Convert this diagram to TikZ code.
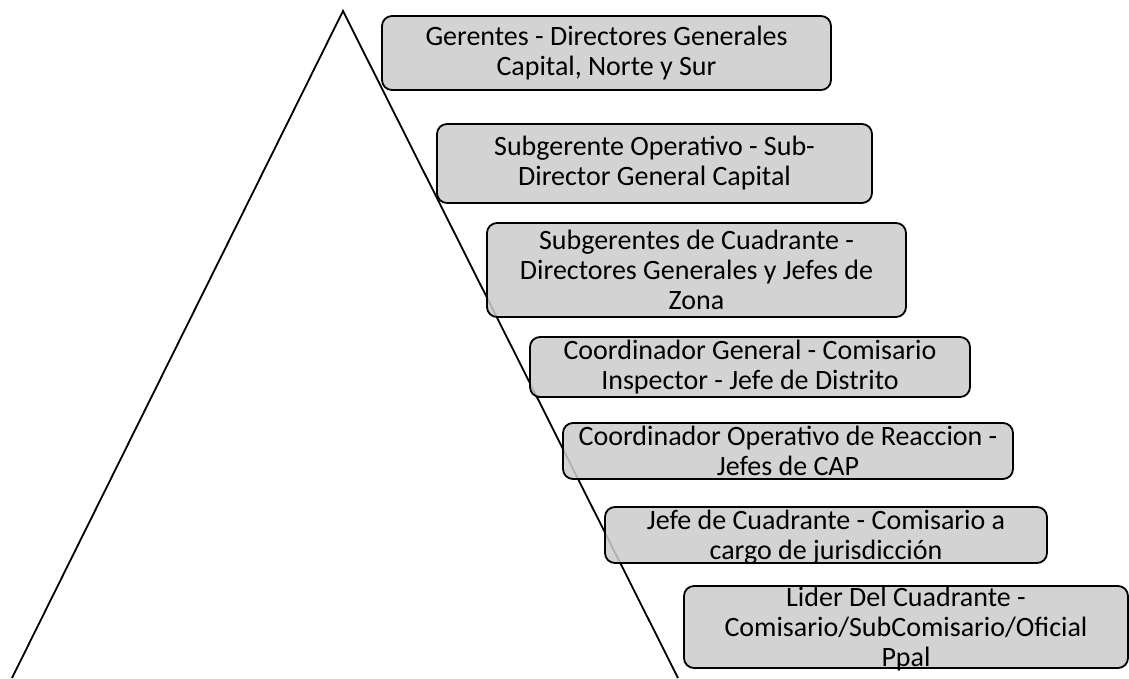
\documentclass[tikz,border=0pt]{standalone}
\usepackage{fontspec}
\setmainfont{Carlito}
\usepackage{tikz}
\usetikzlibrary{positioning}

\begin{document}
\begin{tikzpicture}[x=1pt, y=-1pt,
tier/.style={draw, line width=1.8pt, rounded corners=10pt, fill=gray!40, fill opacity=0.86,
text opacity=1, align=center, inner sep=0pt,
font=\fontsize{28}{30}\selectfont}]
\useasboundingbox (0,0) rectangle (1129,679);
\coordinate (apex) at (343,11);
\coordinate (bl) at (12,678);
\coordinate (br) at (678,678);
\draw[line width=1.8pt] (bl) -- (apex) -- (br);
\node[tier, minimum width=449pt, minimum height=74pt] (t1) at (606.5,53)
{Gerentes - Directores Generales\\ Capital, Norte y Sur};
\node[tier, minimum width=435pt, minimum height=79pt] (t2) at (654.5,163.5)
{Subgerente Operativo - Sub-\\ Director General Capital};
\node[tier, minimum width=419pt, minimum height=94pt] (t3) at (696.5,270)
{Subgerentes de Cuadrante -\\ Directores Generales y Jefes de\\ Zona};
\node[tier, minimum width=440pt, minimum height=60pt] (t4) at (750,367)
{Coordinador General - Comisario\\ Inspector - Jefe de Distrito};
\node[tier, minimum width=450pt, minimum height=56pt] (t5) at (788,451)
{Coordinador Operativo de Reaccion -\\ Jefes de CAP};
\node[tier, minimum width=442pt, minimum height=56pt, text depth=0pt] (t6) at (826,535)
{Jefe de Cuadrante - Comisario a\\ cargo de jurisdicción};
\node[tier, minimum width=444pt, minimum height=82pt, text depth=0pt] (t7) at (906,627)
{Lider Del Cuadrante -\\ Comisario/SubComisario/Oficial\\ Ppal};
\end{tikzpicture}
\end{document}
